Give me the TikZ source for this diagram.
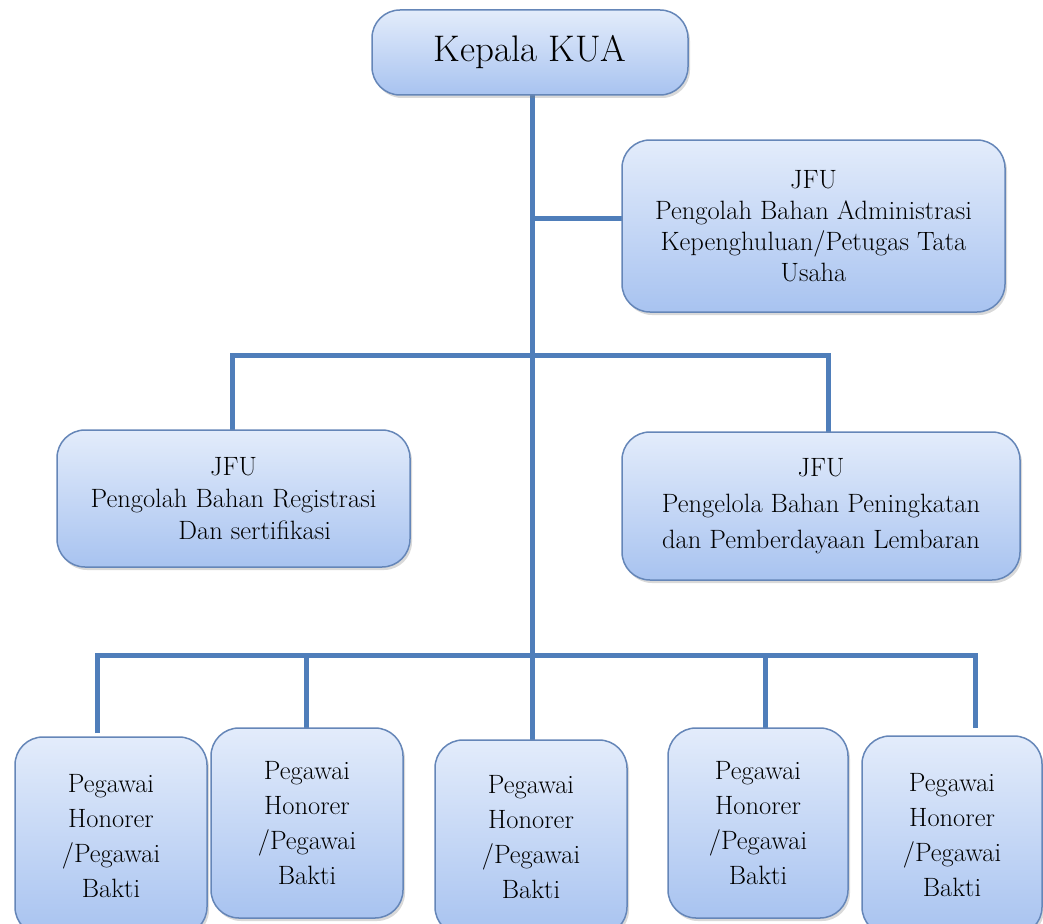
\documentclass[tikz,border=0pt]{standalone}
\usetikzlibrary{shadows}
\definecolor{linkblue}{HTML}{4F7EBA}
\definecolor{boxedge}{HTML}{6586B8}
\definecolor{boxtop}{HTML}{E3ECFB}
\definecolor{boxbot}{HTML}{A8C3F0}

\begin{document}
\begin{tikzpicture}[x=1pt,y=-1pt,
  unit/.style={draw=boxedge,line width=1.5pt,rounded corners=28pt,
    top color=boxtop,bottom color=boxbot,align=center,inner sep=0pt,
    font=\fontsize{26.5}{31}\selectfont,
    drop shadow={shadow xshift=2pt,shadow yshift=-3pt,opacity=0.3,fill=gray}},
  staff/.style={unit,font=\fontsize{26.5}{35}\selectfont},
  link/.style={draw=linkblue,line width=5pt}]
\useasboundingbox (0,0) rectangle (1043,923);
\clip (0,0) rectangle (1043,923);

% junctions of the lines
\coordinate (ja) at (532,218);
\coordinate (jm) at (532,355);
\coordinate (jb) at (532,655);
\coordinate (tr) at (828,432);
\coordinate (t1) at (97,733);
\coordinate (t2) at (306,729);
\coordinate (t3) at (532,740);
\coordinate (t4) at (765,729);
\coordinate (t5) at (975,728);

% connectors
\draw [link] (jb) -- (532,95);
\draw [link] (ja) -- (622,218);
\draw [link] (232,432) |- (jm);
\draw [link] (tr) |- (jm);
\draw [link] (t1) |- (jb);
\draw [link] (t2) |- (jb);
\draw [link] (t3) -- (jb);
\draw [link] (t4) |- (jb);
\draw [link] (t5) |- (jb);

% boxes
\node [unit,minimum width=316pt,minimum height=85pt,font=\fontsize{37}{44}\selectfont] (kua) at (530,52.5) {Kepala KUA};
\node [unit,minimum width=383pt,minimum height=172pt] (adm) at (813.5,226)
  {JFU\\Pengolah Bahan Administrasi\\Kepenghuluan/Petugas Tata\hspace*{1em}\\Usaha};
\node [unit,minimum width=353pt,minimum height=137pt,font=\fontsize{26.5}{32}\selectfont] (reg) at (233.5,498.5)
  {JFU\\Pengolah Bahan Registrasi\\\hspace*{1.6em}Dan sertifikasi};
\node [unit,minimum width=398pt,minimum height=148pt,font=\fontsize{26.5}{36}\selectfont] (pem) at (821,506)
  {JFU\\Pengelola Bahan Peningkatan\\dan Pemberdayaan Lembaran};

\node [staff,minimum width=192pt,minimum height=198pt] (p1) at (111,836) {Pegawai\\Honorer\\/Pegawai\\Bakti};
\node [staff,minimum width=192pt,minimum height=190pt] (p2) at (307,823) {Pegawai\\Honorer\\/Pegawai\\Bakti};
\node [staff,minimum width=192pt,minimum height=195pt] (p3) at (531,837.5) {Pegawai\\Honorer\\/Pegawai\\Bakti};
\node [staff,minimum width=180pt,minimum height=190pt] (p4) at (758,823) {Pegawai\\Honorer\\/Pegawai\\Bakti};
\node [staff,minimum width=180pt,minimum height=199pt] (p5) at (952,835.5) {Pegawai\\Honorer\\/Pegawai\\Bakti};
\end{tikzpicture}
\end{document}
